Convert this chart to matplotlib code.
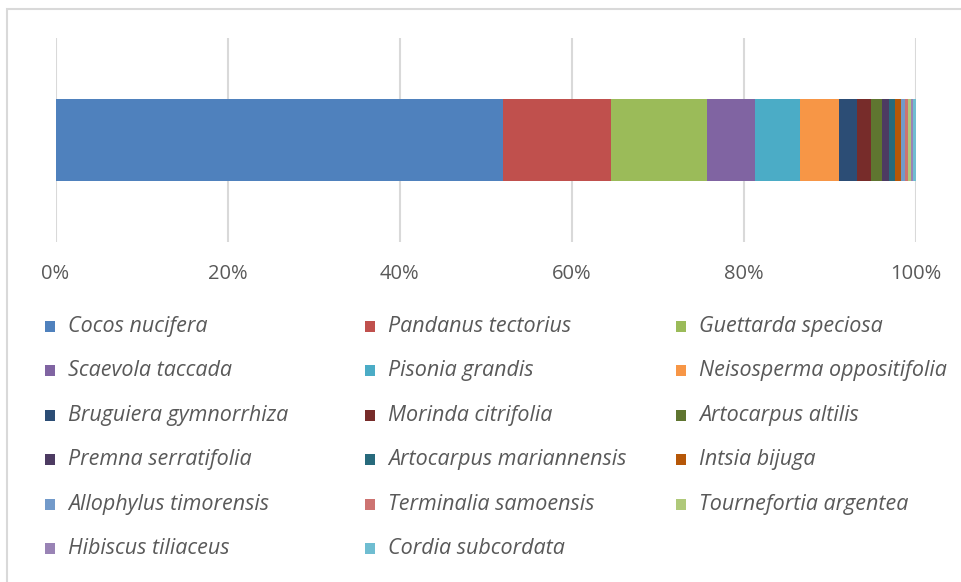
import matplotlib
matplotlib.use("Agg")
import matplotlib.pyplot as plt
from matplotlib.patches import Rectangle
from matplotlib.ticker import PercentFormatter
import numpy as np

species = ["Cocos nucifera", "Pandanus tectorius", "Guettarda speciosa",
           "Scaevola taccada", "Pisonia grandis", "Neisosperma oppositifolia",
           "Bruguiera gymnorrhiza", "Morinda citrifolia", "Artocarpus altilis",
           "Premna serratifolia", "Artocarpus mariannensis", "Intsia bijuga",
           "Allophylus timorensis", "Terminalia samoensis", "Tournefortia argentea",
           "Hibiscus tiliaceus", "Cordia subcordata"]
values = [52.0, 12.5, 11.2, 5.6, 5.2, 4.5, 2.1, 1.7, 1.2, 0.9, 0.7, 0.7,
          0.4, 0.4, 0.3, 0.3, 0.3]
colors = ["#4F81BD", "#C0504D", "#9BBB59", "#8064A2", "#4BACC6", "#F79646",
          "#2C4D75", "#772C2A", "#5F7530", "#4D3B62", "#276A7C", "#B65708",
          "#729ACA", "#CD7371", "#AFC97A", "#9983B5", "#6FBDD1"]
xticks = [0, 20, 40, 60, 80, 100]

W, H = 961, 582
fig = plt.figure(figsize=(W / 100, H / 100), dpi=100)
fig.patch.set_facecolor("white")

# outer chart frame
fig.patches.append(Rectangle((6.5 / W, -0.1), 1.2, 1 - 9 / H + 0.1,
                             transform=fig.transFigure, fill=False,
                             edgecolor="#D9D9D9", lw=1.5))

ax = fig.add_axes([55.5 / W, 1 - 242 / H, (916 - 55.5) / W, 204 / H])
shares = np.array(values) / np.sum(values) * 100
left = 0.0
for v, c in zip(shares, colors):
    ax.barh(0, v, left=left, height=0.4, color=c, edgecolor="none", zorder=3)
    left += v

ax.set_xlim(0, 100)
ax.set_ylim(-0.5, 0.5)
ax.set_xticks(xticks)
ax.xaxis.set_major_formatter(PercentFormatter(decimals=0))
ax.set_yticks([])
ax.grid(axis="x", color="#D9D9D9", lw=1.5, zorder=0)
for s in ax.spines.values():
    s.set_visible(False)
ax.tick_params(axis="x", length=0, pad=16, labelsize=14.5, labelcolor="#595959")
for lab in ax.get_xticklabels():
    lab.set_fontfamily("Open Sans")

# legend
col_x = [50, 370, 681]
row_y0, row_dy = 326.5, 44.4
for i, (name, c) in enumerate(zip(species, colors)):
    r, k = divmod(i, 3)
    x = col_x[k]
    y = row_y0 + r * row_dy
    fig.patches.append(Rectangle(((x - 5) / W, 1 - (y + 5.5) / H), 10 / W, 11 / H,
                                 transform=fig.transFigure, facecolor=c,
                                 edgecolor="none"))
    fig.text((x + 18) / W, 1 - y / H, name, ha="left", va="center",
             fontsize=15.5, style="italic", color="#595959", family="Open Sans")

fig.savefig("out.png", dpi=100, facecolor="white")
